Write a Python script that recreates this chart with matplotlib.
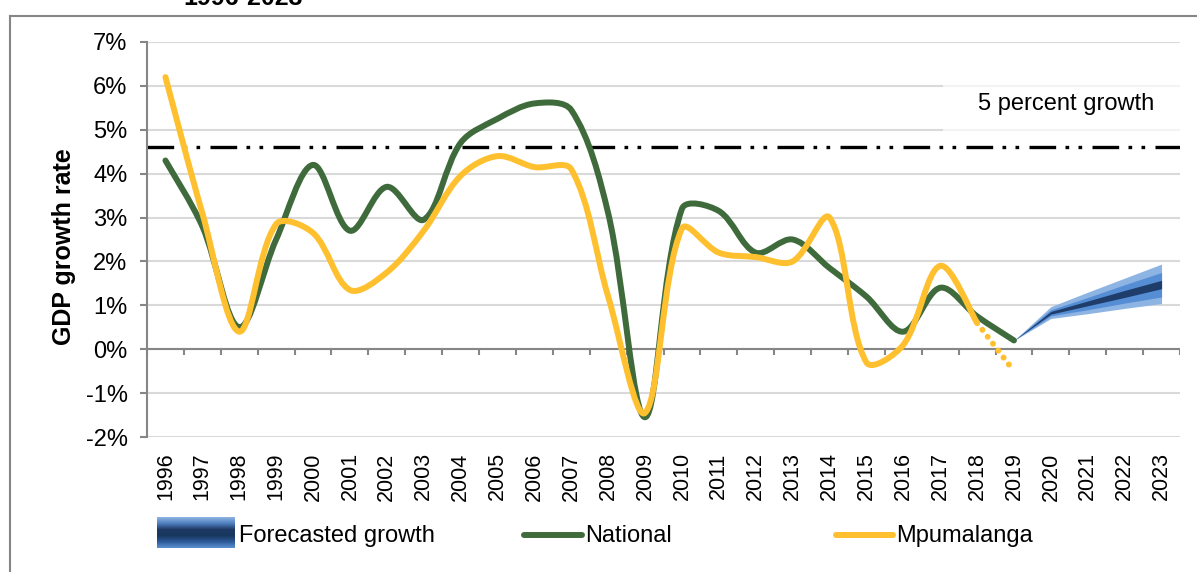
import numpy as np
import matplotlib
matplotlib.use("Agg")
import matplotlib.pyplot as plt
from matplotlib.path import Path
from matplotlib.patches import PathPatch, Rectangle
from matplotlib.colors import LinearSegmentedColormap

plt.rcParams['font.family'] = ['Liberation Sans', 'DejaVu Sans']

years = [str(y) for y in range(1996, 2024)]

# GDP growth, percent
national = [4.3, 2.8, 0.5, 2.5, 4.2, 2.7, 3.7, 2.95, 4.7, 5.25, 5.6, 5.45, 3.1,
            -1.55, 3.2, 3.15, 2.2, 2.5, 1.85, 1.2, 0.4, 1.4, 0.75, 0.2]
mpumalanga = [6.2, 3.1, 0.4, 2.85, 2.65, 1.35, 1.75, 2.7, 3.95, 4.4, 4.15, 4.1, 1.2,
              -1.45, 2.75, 2.2, 2.1, 2.0, 3.0, -0.3, 0.1, 1.9, 0.6]
mpumalanga_est = [0.6, -0.5]  # 2018 -> 2019 (dotted)

# forecast fan 2019-2023
fc_years = [2019, 2020, 2021, 2022, 2023]
fc_outer_lo = [0.2, 0.70, 0.81, 0.93, 1.04]
fc_outer_hi = [0.2, 0.97, 1.30, 1.62, 1.94]
fc_mid_lo = [0.2, 0.76, 0.90, 1.05, 1.19]
fc_mid_hi = [0.2, 0.90, 1.18, 1.47, 1.75]
fc_core_lo = [0.2, 0.80, 0.99, 1.18, 1.38]
fc_core_hi = [0.2, 0.86, 1.10, 1.34, 1.57]

target = 4.6

green = '#3f6b3c'
yellow = '#fec02e'
gray = '#868686'


def smooth_path(xs, ys, sx=36.9, sy=43.9):
    # smoothed line as cubic bezier segments, handles weighted by
    # on-screen segment length (sx, sy = pixels per unit)
    pts = np.column_stack([xs, ys]).astype(float)
    n = len(pts)

    def dist(a, b):
        return np.hypot((a[0] - b[0]) * sx, (a[1] - b[1]) * sy)

    verts = [pts[0]]
    codes = [Path.MOVETO]
    for i in range(n - 1):
        p0 = pts[i - 1] if i > 0 else pts[i]
        p1 = pts[i]
        p2 = pts[i + 1]
        p3 = pts[i + 2] if i + 2 < n else pts[i + 1]
        d01, d12, d23 = dist(p0, p1), dist(p1, p2), dist(p2, p3)
        f1 = d12 / (d01 + d12) / 3 if d01 > 0 else 1 / 6
        f2 = d12 / (d12 + d23) / 3 if d23 > 0 else 1 / 6
        verts += [p1 + (p2 - p0) * f1, p2 - (p3 - p1) * f2, p2]
        codes += [Path.CURVE4] * 3
    return Path(verts, codes)


fig = plt.figure(figsize=(11.97, 5.72), dpi=100)
ax = fig.add_axes([147 / 1197, 1 - 437 / 572, (1180 - 147) / 1197, 395 / 572])

x_all = np.arange(len(years))
ax.set_xlim(-0.5, len(years) - 0.5)
ax.set_ylim(-2, 7)

ax.set_yticks(range(-2, 8))
ax.set_yticklabels([f"{v}%" for v in range(-2, 8)], fontsize=17)
ax.yaxis.grid(True, color='#d9d9d9', lw=1.5)
ax.set_axisbelow(True)
ax.tick_params(axis='y', direction='out', length=5, width=1.5, color=gray, pad=9)

ax.set_xticks(x_all)
ax.set_xticklabels(years, rotation=90, fontsize=15.5)
ax.tick_params(axis='x', length=0, pad=11)

for s in ['top', 'right', 'bottom']:
    ax.spines[s].set_visible(False)
ax.spines['left'].set_color(gray)
ax.spines['left'].set_linewidth(1.5)

# zero axis with category tick marks
ax.axhline(0, color=gray, lw=1.5, zorder=1.5)
ax.vlines(np.arange(-0.5, len(years)), 0, -0.14, color=gray, lw=1.5, zorder=1.5)

# 5 percent line
ax.axhline(target, color='black', lw=2.4, dashes=(8, 2.8, 1.1, 2.8, 1.1, 3.1), zorder=2)

# forecast fan
fx = [years.index(str(y)) for y in fc_years]
ax.fill_between(fx, fc_outer_lo, fc_outer_hi, color='#8eb4e3', lw=0, zorder=3)
ax.fill_between(fx, fc_mid_lo, fc_mid_hi, color='#558ed5', lw=0, zorder=3)
ax.fill_between(fx, fc_core_lo, fc_core_hi, color='#1f3d6b', lw=0, zorder=3)

# series
ax.add_patch(PathPatch(smooth_path(x_all[:len(national)], national), fill=False,
                       edgecolor=green, lw=4.3, capstyle='round', joinstyle='round', zorder=4))
ax.add_patch(PathPatch(smooth_path(x_all[:len(mpumalanga)], mpumalanga), fill=False,
                       edgecolor=yellow, lw=4.3, capstyle='round', joinstyle='round', zorder=5))
est_x = [len(mpumalanga) - 1, len(mpumalanga)]
ax.plot(est_x, mpumalanga_est, color=yellow, lw=4.3, dashes=(0.01, 1.45),
        dash_capstyle='round', zorder=5)

# decoration layer in pixel coords
deco = fig.add_axes([0, 0, 1, 1])
deco.set_xlim(0, 1197)
deco.set_ylim(572, 0)
deco.axis('off')
deco.patch.set_visible(False)

deco.plot([10, 1197], [16, 16], color=gray, lw=1.5)
deco.plot([10, 10], [16, 572], color=gray, lw=1.5)
deco.text(183, 5, "1996-2023", fontsize=18, fontweight='bold', va='baseline', ha='left')

deco.text(64, 247, "GDP growth rate", rotation=90, fontsize=18, fontweight='bold',
          ha='center', va='center')

deco.add_patch(Rectangle((943, 76), 240, 62, facecolor='white', alpha=0.7, lw=0))
deco.text(1066, 104, "5 percent growth", fontsize=17, ha='center', va='center')

# legend
cmap = LinearSegmentedColormap.from_list(
    'fc', ['#8db4e2', '#4f7fbf', '#1f3864', '#17375e', '#2d5a98', '#5b8fd0'])
grad = np.linspace(0, 1, 64).reshape(-1, 1)
deco.imshow(grad, cmap=cmap, extent=(157, 235, 548, 517), aspect='auto', origin='upper')
deco.text(239, 536, "Forecasted growth", fontsize=17, va='center', ha='left')
deco.plot([524, 582], [535, 535], color=green, lw=4.3, solid_capstyle='round')
deco.text(585, 536, "National", fontsize=17, va='center', ha='left')
deco.plot([836, 893], [535, 535], color=yellow, lw=4.3, solid_capstyle='round')
deco.text(896, 536, "Mpumalanga", fontsize=17, va='center', ha='left')
deco.set_xlim(0, 1197)
deco.set_ylim(572, 0)

fig.savefig('out.png', dpi=100)
